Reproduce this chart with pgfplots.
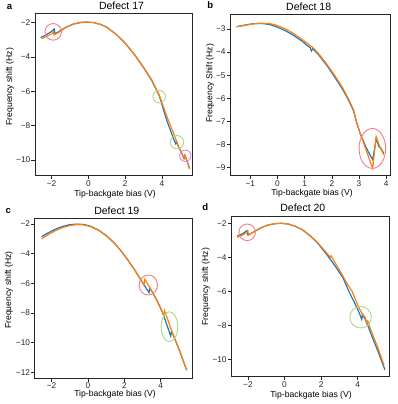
\documentclass[border=0pt]{standalone}
\usepackage{fontspec}
\setmainfont{Liberation Sans}
\usepackage{pgfplots}
\pgfplotsset{compat=1.18}

\definecolor{mblue}{HTML}{1F77B4}
\definecolor{morange}{HTML}{FF7F0E}
\definecolor{cred}{HTML}{F47C7C}
\definecolor{cgreen}{HTML}{A6DC86}
\definecolor{cpink}{HTML}{E87FE0}

\pgfplotsset{
 panel/.style={scale only axis, anchor=north west,
   axis line style={black!85, line width=0.9pt},
   tick style={black!85, line width=0.7pt}, tick align=outside,
   major tick length=3.5pt, xtick pos=bottom, ytick pos=left,
   ticklabel style={font=\fontsize{8.3}{10}\selectfont, text=black!85, inner sep=1pt},
   clip mode=individual},
 bl/.style={color=mblue, line width=1.2pt, mark=none},
 or/.style={color=morange, line width=1.2pt, mark=none},
 circ/.style={only marks, mark=o, color=#1, line width=0.9pt},
}
\newcommand{\lab}{\fontsize{8.6}{10}\selectfont}
\newcommand{\ttl}{\fontsize{10.5}{12}\selectfont}

\begin{document}
\begin{tikzpicture}[x=1pt,y=1pt]
\useasboundingbox (0,0) rectangle (397,404);

% ---------------- a ----------------
\begin{axis}[panel, at={(35pt,390.7pt)}, width=157.3pt, height=162.4pt,
  xmin=-2.9, xmax=5.65, ymin=-10.91, ymax=-1.46,
  xtick={-2,0,2,4}, xticklabels={−2,0,2,4},
  ytick={-10,-8,-6,-4,-2}, yticklabels={−10,−8,−6,−4,−2}]
\addplot[bl] coordinates {(-2.6,-2.87) (-2.3,-2.72) (-2.05,-2.55) (-1.85,-2.37) (-1.82,-2.66) (-1.6,-2.52) (-1.2,-2.26) (-0.8,-2.08) (-0.4,-1.99) (-0.1,-1.97) (0.3,-2.0) (0.7,-2.12) (1.0,-2.27) (1.5,-2.67) (2.0,-3.2) (2.5,-3.85) (3.0,-4.62) (3.45,-5.38) (3.85,-6.25) (4.27,-7.72) (4.63,-8.75) (4.75,-9.05) (4.8,-8.95) (4.9,-9.22) (5.1,-9.66) (5.2,-9.91) (5.25,-9.73) (5.35,-10.01) (5.5,-10.5)};
\addplot[or] coordinates {(-2.55,-2.93) (-2.3,-2.82) (-2.0,-2.66) (-1.9,-2.52) (-1.86,-2.72) (-1.6,-2.56) (-1.2,-2.27) (-0.8,-2.09) (-0.4,-2.0) (-0.1,-1.97) (0.3,-2.0) (0.7,-2.12) (1.0,-2.27) (1.5,-2.67) (2.0,-3.2) (2.5,-3.85) (3.0,-4.6) (3.45,-5.34) (3.85,-6.21) (4.27,-7.47) (4.63,-8.43) (4.9,-9.21) (5.1,-9.65) (5.2,-9.9) (5.25,-9.72) (5.35,-10.0) (5.5,-10.5)};
\addplot[circ=cred, mark size=8.3pt] coordinates {(-1.91,-2.54)};
\addplot[circ=cgreen, mark size=6.3pt] coordinates {(3.85,-6.31)};
\addplot[circ=cgreen, mark size=6.7pt] coordinates {(4.82,-8.96)};
\addplot[circ=cpink, mark size=5.7pt] coordinates {(5.27,-9.75)};
\end{axis}

% ---------------- b ----------------
\begin{axis}[panel, at={(230.3pt,390pt)}, width=160pt, height=161.7pt,
  xmin=-1.735, xmax=4.15, ymin=-9.35, ymax=-2.35,
  xtick={-1,0,1,2,3,4}, xticklabels={−1,0,1,2,3,4},
  ytick={-9,-8,-7,-6,-5,-4,-3}, yticklabels={−9,−8,−7,−6,−5,−4,−3}]
\addplot[bl] coordinates {(-1.5,-2.9) (-1.2,-2.83) (-0.9,-2.77) (-0.6,-2.76) (-0.3,-2.8) (0.0,-2.92) (0.3,-3.08) (0.6,-3.28) (0.9,-3.52) (1.1,-3.72) (1.2,-3.8) (1.25,-3.95) (1.3,-3.85) (1.5,-4.1) (1.8,-4.55) (2.1,-5.07) (2.4,-5.62) (2.6,-6.05) (2.8,-6.55) (2.9,-7.0) (3.05,-7.55) (3.25,-8.1) (3.4,-8.45) (3.5,-8.65) (3.57,-8.2) (3.63,-7.73) (3.73,-8.09) (3.8,-8.15) (3.91,-8.38)};
\addplot[or] coordinates {(-1.5,-2.9) (-1.2,-2.84) (-0.9,-2.78) (-0.6,-2.75) (-0.3,-2.76) (0.0,-2.85) (0.3,-3.0) (0.6,-3.2) (0.9,-3.45) (1.1,-3.62) (1.2,-3.72) (1.3,-3.8) (1.5,-4.05) (1.8,-4.5) (2.1,-5.0) (2.4,-5.55) (2.6,-6.0) (2.8,-6.5) (2.9,-7.0) (3.05,-7.55) (3.25,-8.2) (3.4,-8.7) (3.5,-9.03) (3.57,-8.3) (3.63,-7.66) (3.75,-8.05) (3.91,-8.45)};
\addplot[circ=cred, mark size=13.3pt, mark options={yscale=1.5}] coordinates {(3.49,-8.17)};
\end{axis}

% ---------------- c ----------------
\begin{axis}[panel, at={(34.7pt,185.7pt)}, width=158pt, height=160pt,
  xmin=-2.93, xmax=5.76, ymin=-12.4, ymax=-1.61,
  xtick={-2,0,2,4}, xticklabels={−2,0,2,4},
  ytick={-12,-10,-8,-6,-4,-2}, yticklabels={−12,−10,−8,−6,−4,−2}]
\addplot[bl] coordinates {(-2.55,-2.85) (-2.2,-2.6) (-1.8,-2.35) (-1.4,-2.16) (-1.0,-2.04) (-0.6,-2.0) (-0.2,-2.03) (0.2,-2.17) (0.6,-2.42) (1.0,-2.77) (1.4,-3.22) (1.8,-3.78) (2.2,-4.43) (2.6,-5.15) (2.9,-5.75) (3.08,-6.1) (3.36,-6.62) (3.4,-6.3) (3.5,-6.5) (3.8,-7.15) (4.1,-7.97) (4.18,-8.22) (4.55,-9.55) (4.6,-9.22) (5.0,-10.42) (5.43,-11.86)};
\addplot[or] coordinates {(-2.55,-3.0) (-2.2,-2.72) (-1.8,-2.45) (-1.4,-2.24) (-1.0,-2.1) (-0.6,-2.03) (-0.2,-2.06) (0.2,-2.2) (0.6,-2.44) (1.0,-2.79) (1.4,-3.23) (1.8,-3.78) (2.2,-4.43) (2.6,-5.15) (2.9,-5.75) (3.08,-6.1) (3.13,-5.72) (3.5,-6.5) (3.8,-7.15) (4.1,-7.95) (4.18,-8.2) (4.22,-7.85) (4.6,-9.2) (5.0,-10.4) (5.43,-11.84)};
\addplot[circ=cred, mark size=9.2pt, mark options={yscale=1.09}] coordinates {(3.32,-6.11)};
\addplot[circ=cgreen, mark size=8.3pt, mark options={yscale=1.8}] coordinates {(4.48,-8.92)};
\end{axis}

% ---------------- d ----------------
\begin{axis}[panel, at={(231.3pt,187.3pt)}, width=158pt, height=160pt,
  xmin=-2.91, xmax=5.73, ymin=-11.03, ymax=-1.59,
  xtick={-2,0,2,4}, xticklabels={−2,0,2,4},
  ytick={-10,-8,-6,-4,-2}, yticklabels={−10,−8,−6,−4,−2}]
\addplot[bl] coordinates {(-2.59,-2.73) (-2.3,-2.6) (-2.05,-2.41) (-2.0,-2.67) (-1.7,-2.5) (-1.3,-2.25) (-0.9,-2.08) (-0.5,-2.0) (-0.2,-1.98) (0.2,-2.02) (0.6,-2.16) (1.0,-2.38) (1.4,-2.72) (1.8,-3.13) (2.0,-3.4) (2.4,-3.95) (2.8,-4.55) (3.2,-5.2) (3.52,-6.0) (3.8,-6.6) (4.1,-7.3) (4.22,-7.65) (4.28,-7.35) (4.45,-7.75) (4.55,-8.0) (4.8,-8.7) (5.1,-9.5) (5.49,-10.62)};
\addplot[or] coordinates {(-2.59,-2.81) (-2.3,-2.68) (-2.1,-2.55) (-2.0,-2.45) (-1.96,-2.67) (-1.7,-2.5) (-1.3,-2.25) (-0.9,-2.08) (-0.5,-2.0) (-0.2,-1.98) (0.2,-2.02) (0.6,-2.16) (1.0,-2.37) (1.4,-2.7) (1.8,-3.1) (2.2,-3.6) (2.5,-3.98) (2.55,-3.9) (2.65,-4.1) (3.0,-4.72) (3.4,-5.5) (3.7,-6.0) (4.0,-6.8) (4.25,-7.35) (4.4,-7.5) (4.5,-7.85) (4.55,-7.75) (4.8,-8.5) (5.1,-9.3) (5.44,-10.35)};
\addplot[circ=cred, mark size=8.3pt] coordinates {(-2.04,-2.51)};
\addplot[circ=cgreen, mark size=10.8pt] coordinates {(4.16,-7.52)};
\end{axis}

% ---------------- text ----------------
\node[font=\fontsize{9.5}{10}\selectfont\bfseries, anchor=base] at (9.5,394) {a};
\node[font=\fontsize{9.5}{10}\selectfont\bfseries, anchor=base] at (210.3,395.5) {b};
\node[font=\fontsize{9.5}{10}\selectfont\bfseries, anchor=base] at (8.3,190.8) {c};
\node[font=\fontsize{9.5}{10}\selectfont\bfseries, anchor=base] at (205.3,193.2) {d};
\node[font=\ttl, anchor=base] at (121.5,394) {Defect 17};
\node[font=\ttl, anchor=base] at (308.7,393.3) {Defect 18};
\node[font=\ttl, anchor=base] at (116.8,189) {Defect 19};
\node[font=\ttl, anchor=base] at (302.8,192.3) {Defect 20};
\node[font=\lab, anchor=base] at (115,207.7) {Tip-backgate bias (V)};
\node[font=\lab, anchor=base] at (312,208) {Tip-backgate bias (V)};
\node[font=\lab, anchor=base] at (115,8) {Tip-backgate bias (V)};
\node[font=\lab, anchor=base] at (311,6.5) {Tip-backgate bias (V)};
\node[font=\lab, rotate=90, anchor=base] at (12,317.3) {Frequency shift (Hz)};
\node[font=\lab, rotate=90, anchor=base] at (212.4,320.7) {Frequency Shift (Hz)};
\node[font=\lab, rotate=90, anchor=base] at (11,114) {Frequency shift (Hz)};
\node[font=\lab, rotate=90, anchor=base] at (208,117.3) {Frequency shift (Hz)};
\end{tikzpicture}
\end{document}
